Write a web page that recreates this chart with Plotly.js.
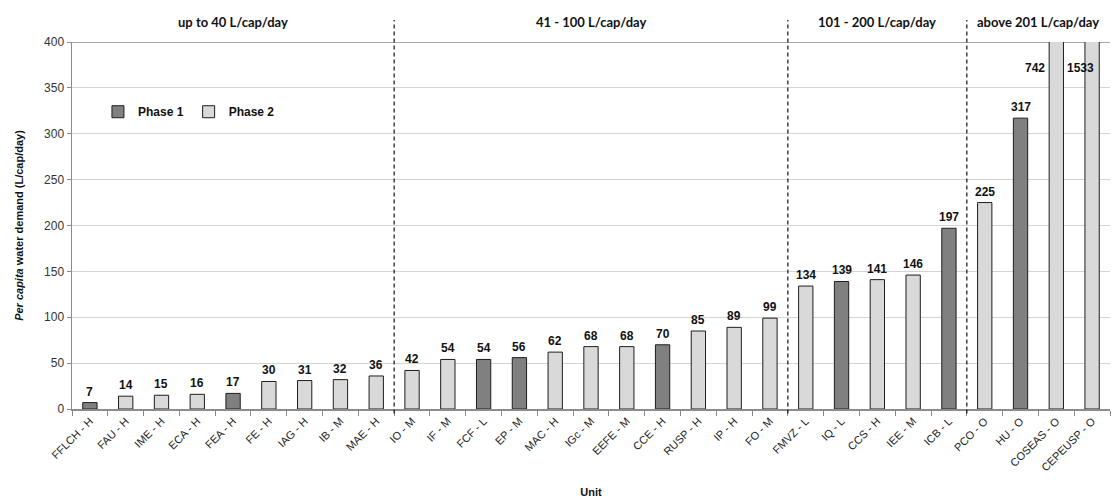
<!DOCTYPE html>
<html>
<head>
<meta charset="utf-8">
<script src="https://cdn.plot.ly/plotly-3.0.1.min.js"></script>
<style>html,body{margin:0;padding:0;background:#fff;}#chart{width:1118px;height:504px;}</style>
</head>
<body>
<div id="chart"></div>
<script>
// ---- data ----
var categories = ['FFLCH - H','FAU - H','IME - H','ECA - H','FEA - H','FE - H','IAG - H','IB - M','MAE - H',
  'IO - M','IF - M','FCF - L','EP - M','MAC - H','IGc - M','EEFE - M','CCE - H','RUSP - H','IP - H','FO - M',
  'FMVZ - L','IQ - L','CCS - H','IEE - M','ICB - L',
  'PCO - O','HU - O','COSEAS - O','CEPEUSP - O'];
var values = [7,14,15,16,17,30,31,32,36,
  42,54,54,56,62,68,68,70,85,89,99,
  134,139,141,146,197,
  225,317,742,1533];
var phase = [1,2,2,2,1,2,2,2,2,
  2,2,1,1,2,2,2,1,2,2,2,
  2,1,2,2,1,
  2,1,2,2];
var phaseNames = ['Phase 1','Phase 2'];
var groupLabels = ['up to 40 L/cap/day','41 - 100 L/cap/day','101 - 200 L/cap/day','above 201 L/cap/day'];
var groupSizes = [9,11,5,4];
var yMax = 400;

// ---- style ----
var phaseColors = ['#808080','#d9d9d9'];
var clippedLabelY = 372;
var clippedShifts = [-21,-12];

var traces = phaseNames.map(function(name, pi){
  return {
    type:'bar', name:name,
    x: categories,
    y: values.map(function(v,i){ return phase[i]===pi+1 ? v : null; }),
    width:0.4,
    marker:{color:phaseColors[pi], line:{color:'#1e1e1e', width:1}},
    hoverinfo:'x+y'
  };
});

var annotations = [];
var ci = 0;
values.forEach(function(v,i){
  if (v <= yMax) {
    annotations.push({x:categories[i], y:v, xref:'x', yref:'y', text:String(v), showarrow:false,
      yanchor:'bottom', yshift:2, font:{family:'Liberation Sans, Arial', size:12, color:'#111', weight:'bold'}});
  } else {
    annotations.push({x:categories[i], y:clippedLabelY, xref:'x', yref:'y', text:String(v), showarrow:false,
      yanchor:'middle', xshift:clippedShifts[ci++] || 0, font:{family:'Liberation Sans, Arial', size:12, color:'#111', weight:'bold'}});
  }
});

var shapes = [];
var start = 0;
groupSizes.forEach(function(n, gi){
  var center = start + (n-1)/2;
  annotations.push({x:center, y:1.054, xref:'x', yref:'paper', text:groupLabels[gi], showarrow:false,
    yanchor:'middle', font:{family:'Lato, Open Sans, sans-serif', size:13, color:'#111', weight:'bold'}});
  if (gi > 0) {
    shapes.push({type:'line', xref:'x', yref:'paper', x0:start-0.5, x1:start-0.5, y0:-0.012, y1:1.06,
      line:{color:'#111', width:1.2, dash:'4px,3px'}});
  }
  start += n;
});
// darker top line at max
shapes.push({type:'line', xref:'paper', yref:'y', x0:0, x1:1, y0:yMax, y1:yMax, line:{color:'#8c8c8c', width:1.5}, layer:'below'});

var layout = {
  width:1118, height:504,
  margin:{l:72, r:8, t:42, b:95},
  paper_bgcolor:'#fff', plot_bgcolor:'#fff',
  font:{family:'Liberation Sans, Arial, sans-serif', color:'#222'},
  barmode:'overlay',
  showlegend:true,
  legend:{orientation:'h', x:0.025, y:0.81, xanchor:'left', yanchor:'middle', font:{size:12, weight:'bold', color:'#111'},
    bgcolor:'rgba(0,0,0,0)', itemwidth:30, tracegroupgap:0},
  xaxis:{type:'category', categoryorder:'array', categoryarray:categories,
    tickangle:-45, tickfont:{size:11, color:'#222'},
    ticks:'outside', tickson:'boundaries', ticklen:5, tickcolor:'#8c8c8c',
    showline:true, linecolor:'#8c8c8c', linewidth:1.5, showgrid:false,
    title:{text:'Unit', font:{size:11, weight:'bold', color:'#111'}, standoff:16}},
  yaxis:{range:[0,yMax], dtick:50, tickfont:{size:12, color:'#333'},
    ticks:'outside', ticklen:4, tickcolor:'#8c8c8c',
    showline:true, linecolor:'#8c8c8c', linewidth:1.5, gridcolor:'#d4d4d4', gridwidth:1, zeroline:false,
    title:{text:'<i>Per capita</i> water demand (L/cap/day)', font:{size:11, weight:'bold', color:'#111'}, standoff:18}},
  annotations:annotations,
  shapes:shapes
};

Plotly.newPlot('chart', traces, layout, {displayModeBar:false, staticPlot:true});
</script>
</body>
</html>
